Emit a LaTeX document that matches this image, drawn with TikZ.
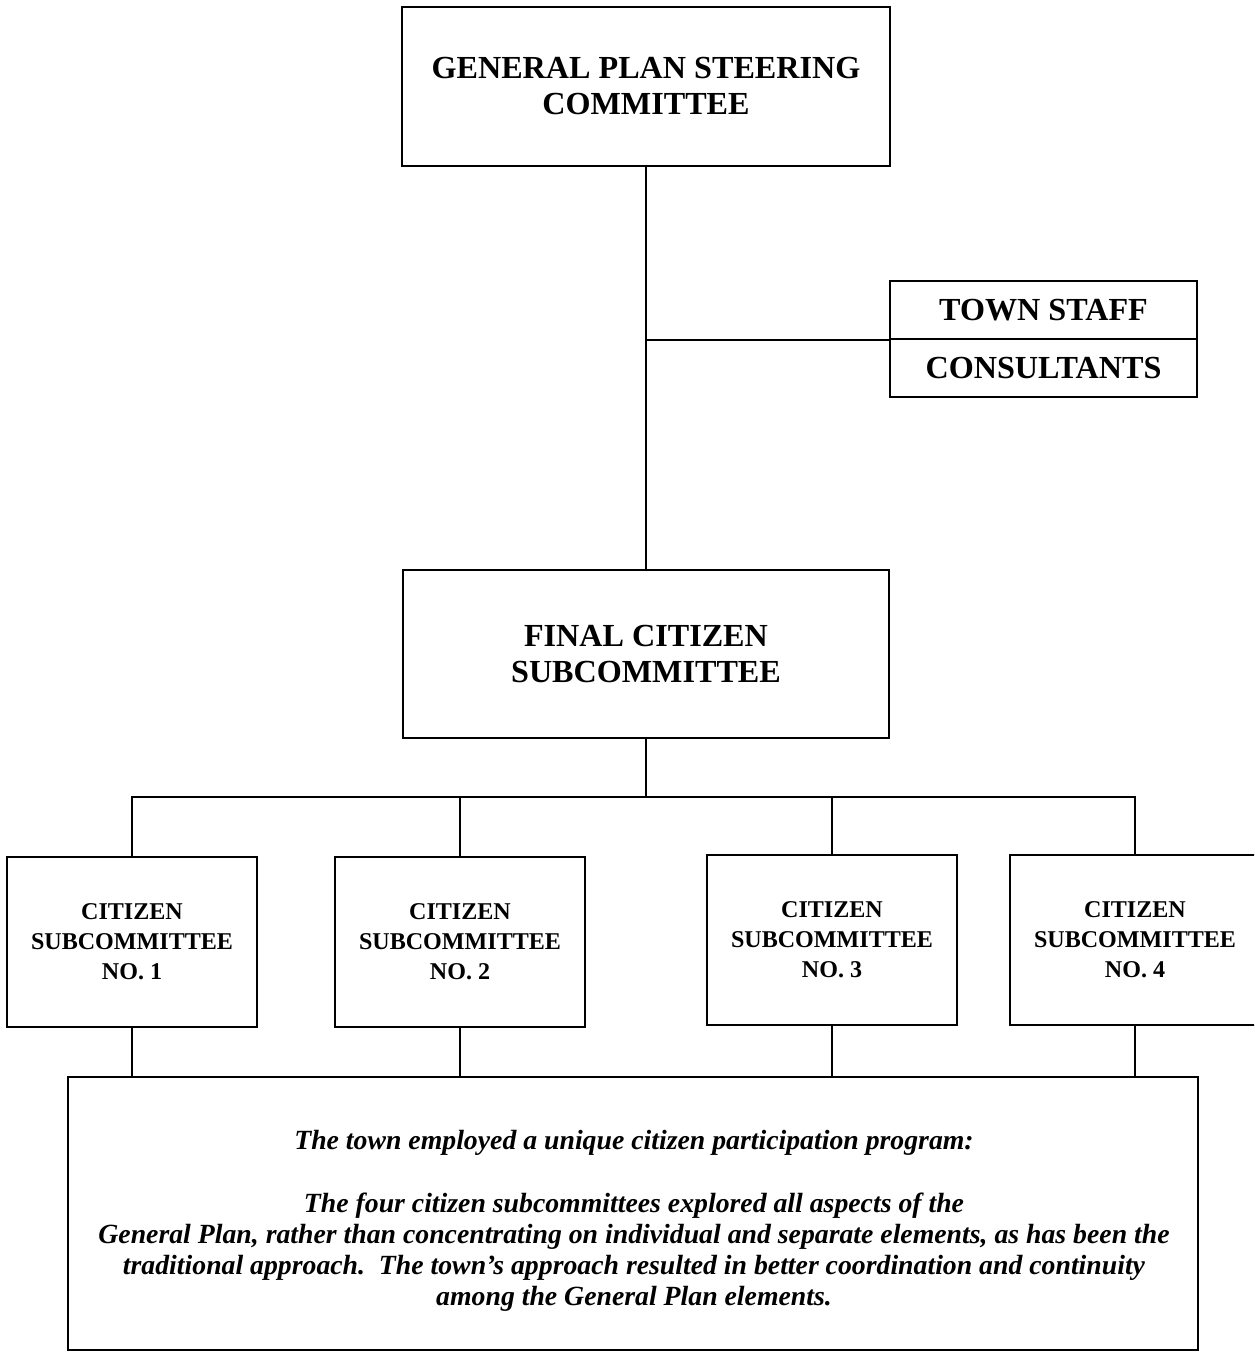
\documentclass[tikz,border=0pt]{standalone}
\usepackage{fontspec}
\setmainfont{Liberation Serif}
\usetikzlibrary{positioning}

\begin{document}
\begin{tikzpicture}[x=0.02cm,y=-0.02cm,line width=1.1pt]
% page frame
\clip (0,0) rectangle (1254,1352);

\tikzstyle{board} = [draw, shape=rectangle, line width=1.1pt, align=center, inner sep=0pt, font=\bfseries\fontsize{18.3}{20.5}\selectfont]
\tikzstyle{subbox} = [board, minimum width=5cm, minimum height=3.4cm, font=\bfseries\fontsize{13.7}{17}\selectfont]
\tikzstyle{staffbox} = [board, minimum width=6.14cm, minimum height=1.16cm]

\node at (646,86.5) [board, minimum width=9.76cm, minimum height=3.18cm] (gpsc) {GENERAL PLAN STEERING\\COMMITTEE};
\node at (1043.5,310) [staffbox] (staff) {TOWN STAFF};
\node at (1043.5,368) [staffbox] (cons) {CONSULTANTS};
\node at (646,654) [board, minimum width=9.74cm, minimum height=3.36cm] (fcs) {FINAL CITIZEN\\SUBCOMMITTEE};

\node at (132,942) [subbox] (sub1) {CITIZEN\\SUBCOMMITTEE\\NO. 1};
\node at (460,942) [subbox] (sub2) {CITIZEN\\SUBCOMMITTEE\\NO. 2};
\node at (832,940) [subbox] (sub3) {CITIZEN\\SUBCOMMITTEE\\NO. 3};
\node at (1135,940) [subbox] (sub4) {CITIZEN\\SUBCOMMITTEE\\NO. 4};

\node at (633,1213.5) [draw, minimum width=22.6cm, minimum height=5.46cm] (note) {};
\node at (634,1221) [align=center, font=\bfseries\itshape\fontsize{15.8}{17.8}\selectfont] (notetext) {The town employed a unique citizen participation program:\\[17.8pt]
The four citizen subcommittees explored all aspects of the\\
General Plan, rather than concentrating on individual and separate elements, as has been the\\
traditional approach.\ \ The town’s approach resulted in better coordination and continuity\\
among the General Plan elements.};

% connectors
\draw (gpsc.south) -- (fcs.north);
\draw (staff.south west) -- (staff.south west -| gpsc.south);
\coordinate (bus) at (646,797);
\draw (fcs.south) -- (bus);
\foreach \n in {1,...,4} \draw (bus) -| (sub\n.north);
\foreach \n in {1,...,4} \draw (sub\n.south) -- (sub\n.south |- note.north);
\end{tikzpicture}
\end{document}
